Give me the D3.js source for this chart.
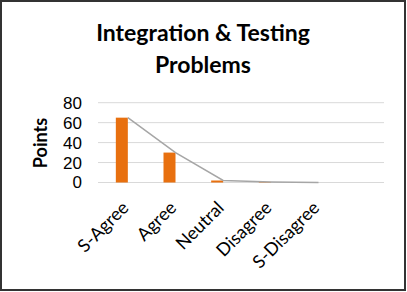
<!DOCTYPE html>
<html>
<head>
<meta charset="utf-8">
<script src="https://cdn.jsdelivr.net/npm/d3@7"></script>
<style>
  body { margin: 0; background: #fff; }
  text { font-family: Lato, "Open Sans", sans-serif; fill: #000; }
</style>
</head>
<body>
<svg width="407" height="292"></svg>
<script>
var width = 407,
  height = 292;

// chart data
var categories = [ "S-Agree", "Agree", "Neutral", "Disagree", "S-Disagree", "" ];
var points = [ 65, 30, 2, 0.6, 0 ];
var yTicks = [ 0, 20, 40, 60, 80 ];
var titleLines = [ "Integration & Testing", "Problems" ];

var svg = d3.select( "svg" );

// outer frame
svg.append( "rect" )
  .attr( "x", 1 )
  .attr( "y", 1 )
  .attr( "width", width - 3 )
  .attr( "height", height - 3 )
  .attr( "fill", "none" )
  .attr( "stroke", "#333" )
  .attr( "stroke-width", 2 );

var xScale = d3.scaleBand()
  .domain( categories )
  .range( [ 98, 384 ] );

var yScale = d3.scaleLinear()
  .domain( [ 0, 80 ] )
  .range( [ 182.5, 102.7 ] );

var barWidth = 12;

// gridlines
svg.selectAll( "line.grid" )
  .data( yTicks )
  .enter().append( "line" )
    .attr( "class", "grid" )
    .attr( "x1", 98 )
    .attr( "x2", 384 )
    .attr( "y1", d => yScale( d ) )
    .attr( "y2", d => yScale( d ) )
    .attr( "stroke", "#d9d9d9" )
    .attr( "stroke-width", 1 );

// y axis labels
var yAxis = d3.axisLeft( yScale ).tickValues( yTicks ).tickSize( 0 ).tickPadding( 0 );

svg.append( "g" )
  .attr( "transform", "translate(82,0)" )
  .call( yAxis )
  .call( g => g.select( ".domain" ).remove() )
  .selectAll( "text" )
    .style( "font-family", "'Liberation Sans', sans-serif" )
    .style( "font-size", "17px" )
    .attr( "fill", "#000" );

// bars
svg.selectAll( "rect.bar" )
  .data( points )
  .enter().append( "rect" )
    .attr( "class", "bar" )
    .attr( "x", ( d, i ) => xScale( categories[ i ] ) + xScale.bandwidth() / 2 - barWidth / 2 )
    .attr( "y", d => yScale( d ) )
    .attr( "width", barWidth )
    .attr( "height", d => yScale( 0 ) - yScale( d ) )
    .attr( "fill", "#e8700f" );

// line through the bar tops
var line = d3.line()
  .x( ( d, i ) => xScale( categories[ i ] ) + xScale.bandwidth() / 2 + barWidth / 2 )
  .y( d => yScale( d ) );

svg.append( "path" )
  .datum( points )
  .attr( "d", line )
  .attr( "fill", "none" )
  .attr( "stroke", "#a6a6a6" )
  .attr( "stroke-width", 1.5 );

// category labels
svg.selectAll( "text.cat" )
  .data( categories.filter( c => c !== "" ) )
  .enter().append( "text" )
    .attr( "class", "cat" )
    .attr( "transform", d => "translate(" + ( xScale( d ) + xScale.bandwidth() / 2 - 1 ) + ",200) rotate(-45)" )
    .attr( "text-anchor", "end" )
    .attr( "dy", "0.7em" )
    .style( "font-size", "18px" )
    .text( d => d );

// axis title
svg.append( "text" )
  .attr( "transform", "translate(47,143) rotate(-90)" )
  .attr( "text-anchor", "middle" )
  .style( "font-size", "18px" )
  .style( "font-weight", "bold" )
  .text( "Points" );

// chart title
svg.selectAll( "text.title" )
  .data( titleLines )
  .enter().append( "text" )
    .attr( "class", "title" )
    .attr( "x", 203 )
    .attr( "y", ( d, i ) => 41 + i * 32 )
    .attr( "text-anchor", "middle" )
    .style( "font-size", "23px" )
    .style( "font-weight", "bold" )
    .text( d => d );
</script>
</body>
</html>
